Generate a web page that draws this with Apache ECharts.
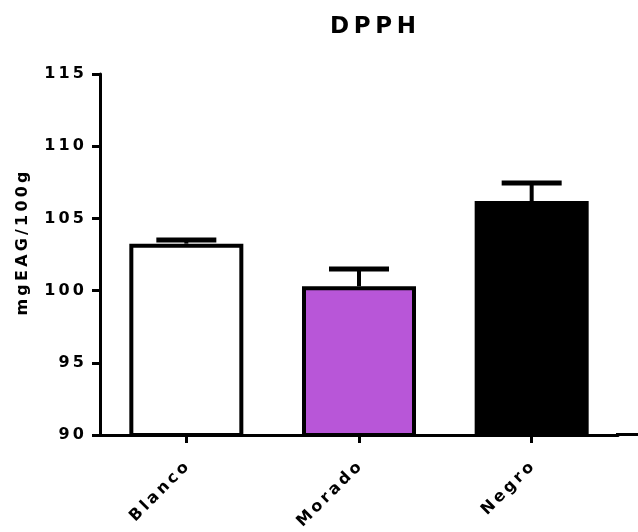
<!DOCTYPE html>
<html style="height: 100%">
<head>
<meta charset="utf-8">
<script src="https://cdn.jsdelivr.net/npm/echarts@6/dist/echarts.min.js"></script>
<title>DPPH</title>
</head>
<body style="height: 100%; margin: 0; background: #fff">
<div id="container" style="width: 638px; height: 532px"></div>
<script type="text/javascript">
const categories = ['Blanco', 'Morado', 'Negro'];
const means = [103.25, 100.3, 106.2];
const errorTops = [103.5, 101.5, 107.45];
const barColors = ['#ffffff', '#b856d8', '#000000'];
const yTicks = { min: 90, max: 115, interval: 5 };

// spread letters apart like the original export (thin spaces)
function spaced(s) {
  return String(s).split('').join('\u2009');
}

let chart = echarts.init(document.getElementById('container'));
const font = '"DejaVu Sans", Verdana, sans-serif';

chart.setOption({
  animation: false,
  title: {
    text: spaced('DPPH'),
    left: 368,
    textAlign: 'center',
    top: 11,
    textStyle: { fontFamily: font, fontWeight: 'bold', fontSize: 23, color: '#000' }
  },
  grid: { left: 100, right: 20, top: 74, bottom: 97, outerBoundsMode: 'none' },
  xAxis: {
    type: 'category',
    data: categories,
    axisLine: { lineStyle: { color: '#000', width: 3 } },
    axisTick: { show: true, alignWithLabel: true, length: 8, lineStyle: { color: '#000', width: 3 } },
    axisLabel: {
      rotate: 45,
      margin: 30,
      color: '#000',
      fontFamily: font,
      fontWeight: 'bold',
      fontSize: 16,
      formatter: spaced
    }
  },
  yAxis: {
    type: 'value',
    min: yTicks.min,
    max: yTicks.max,
    interval: yTicks.interval,
    name: spaced('mgEAG/100g'),
    nameLocation: 'middle',
    nameGap: 69,
    nameTextStyle: { fontFamily: font, fontWeight: 'bold', fontSize: 16, color: '#000', padding: [0, 0, 0, 22] },
    splitLine: { show: false },
    axisLine: { show: true, lineStyle: { color: '#000', width: 3 } },
    axisTick: { show: true, length: 8, lineStyle: { color: '#000', width: 3 } },
    axisLabel: {
      margin: 16,
      color: '#000',
      fontFamily: font,
      fontWeight: 'bold',
      fontSize: 16,
      formatter: spaced
    }
  },
  series: [
    {
      type: 'custom',
      z: 1,
      data: categories.map((c, i) => [i, means[i], errorTops[i]]),
      renderItem: function (params, api) {
        const base = api.coord([api.value(0), api.value(1)]);
        const top = api.coord([api.value(0), api.value(2)]);
        return {
          type: 'group',
          children: [
            { type: 'line', shape: { x1: base[0], y1: base[1], x2: top[0], y2: top[1] }, style: { stroke: '#000', lineWidth: 4 } },
            { type: 'line', shape: { x1: top[0] - 30, y1: top[1], x2: top[0] + 30, y2: top[1] }, style: { stroke: '#000', lineWidth: 5 } }
          ]
        };
      }
    },
    {
      type: 'bar',
      z: 2,
      barWidth: 114,
      data: means.map((v, i) => ({
        value: v,
        itemStyle: { color: barColors[i], borderColor: '#000', borderWidth: 4 }
      }))
    }
  ],
  graphic: [
    // GraphPad axis line runs on past the last category
    { type: 'line', shape: { x1: 616, y1: 434.5, x2: 638, y2: 434.5 }, style: { stroke: '#000', lineWidth: 3 } }
  ]
});
</script>
</body>
</html>
